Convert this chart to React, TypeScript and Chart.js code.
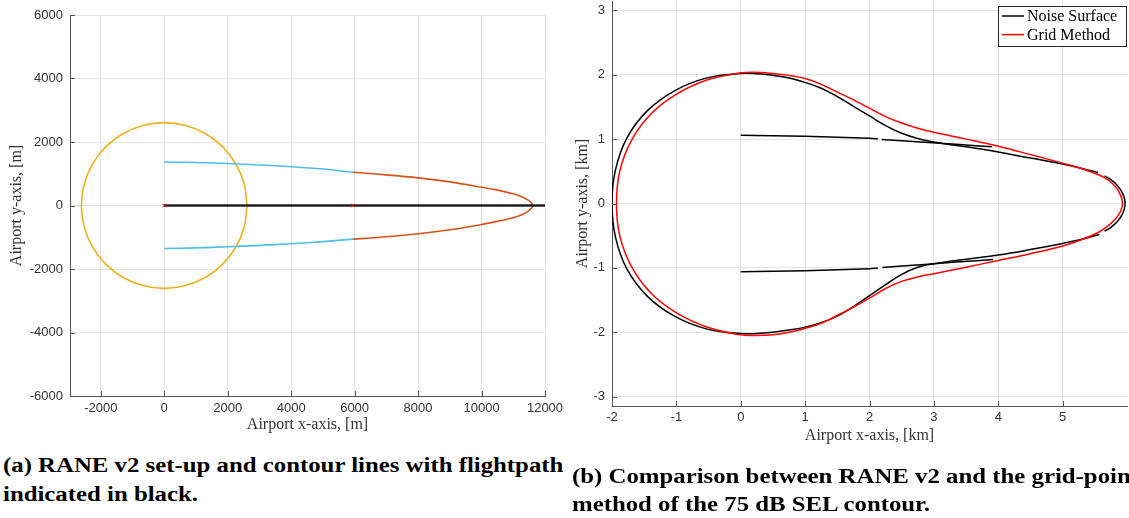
import React, { useEffect, useRef } from 'react';
import { Chart, registerables } from 'chart.js';

Chart.register(...registerables);

// ---------------- Panel (a) data: metres ----------------
const aCircleX = [2610, 2521, 2260, 1846, 1305, 675, 0, -675, -1305, -1846, -2260, -2521, -2610, -2521, -2260, -1846, -1305, -675, 0, 675, 1305, 1846, 2260, 2521, 2610];
const aCircleY = [0, 675, 1305, 1846, 2260, 2521, 2610, 2521, 2260, 1846, 1305, 675, 0, -675, -1305, -1846, -2260, -2521, -2610, -2521, -2260, -1846, -1305, -675, 0];
const aBlueX = [0, 1000, 2000, 3000, 4000, 5000, 5950];
const aBlueUpperY = [1372, 1355, 1322, 1277, 1222, 1148, 1045];
const aBlueLowerY = [-1352, -1335, -1300, -1257, -1205, -1138, -1060];
const aOrangeX = [5950, 7000, 8000, 9000, 10000, 10500, 11000, 11300, 11480, 11580, 11620, 11580, 11480, 11300, 11000, 10500, 10000, 9000, 8000, 7000, 5950];
const aOrangeY = [1045, 964, 870, 744, 577, 485, 367, 262, 160, 75, 0, -80, -168, -275, -388, -500, -598, -765, -891, -985, -1060];
const aPathX = [0, 12000];
const aPathY = [0, 0];
const aMarkX = [0, 5950];
const aMarkY = [0, 0];
const aXTicks = [-2000, 0, 2000, 4000, 6000, 8000, 10000, 12000];
const aYTicks = [-6000, -4000, -2000, 0, 2000, 4000, 6000];

// ---------------- Panel (b) data: kilometres ----------------
// Noise Surface main contour: upper branch (right to left), left arc, lower branch (left to right)
const bNoiseMainX = [5.55, 5.3, 5.0, 4.5, 4.0, 3.5, 3.0, 2.75, 2.5, 2.25, 2.0, 1.75, 1.5, 1.25, 1.0, 0.75, 0.5, 0.25, 0,
  -0.523, -1.015, -1.446, -1.767, -1.946, -2.0, -1.946, -1.767, -1.446, -1.015, -0.523,
  0, 0.25, 0.5, 0.75, 1.0, 1.25, 1.5, 1.75, 2.0, 2.25, 2.5, 2.75, 3.0, 3.5, 4.0, 4.5, 5.0, 5.3, 5.57];
const bNoiseMainY = [0.48, 0.545, 0.615, 0.705, 0.8, 0.88, 0.955, 1.01, 1.09, 1.21, 1.36, 1.51, 1.66, 1.79, 1.88, 1.95, 1.99, 2.015, 2.02,
  1.951, 1.758, 1.446, 1.02, 0.522, 0, -0.522, -1.02, -1.446, -1.758, -1.951,
  -2.02, -2.02, -2.0, -1.965, -1.92, -1.85, -1.75, -1.6, -1.43, -1.26, -1.1, -0.99, -0.935, -0.865, -0.8, -0.715, -0.62, -0.555, -0.48];
const bNoseX = [5.65, 5.75, 5.84, 5.92, 5.96, 5.97, 5.96, 5.92, 5.84, 5.75, 5.65];
const bNoseY = [0.43, 0.37, 0.29, 0.18, 0.08, 0, -0.08, -0.18, -0.29, -0.37, -0.43];
const bInnerUpAX = [0, 1, 2, 2.13];
const bInnerUpAY = [1.06, 1.045, 1.012, 1.005];
const bInnerUpBX = [2.19, 2.8, 3.4, 3.9];
const bInnerUpBY = [0.995, 0.955, 0.915, 0.88];
const bInnerLoAX = [0, 1, 2, 2.13];
const bInnerLoAY = [-1.06, -1.045, -1.012, -1.005];
const bInnerLoBX = [2.2, 2.8, 3.4, 3.92];
const bInnerLoBY = [-0.995, -0.95, -0.905, -0.87];
// Grid Method closed contour
const bGridX = [0, 0.2, 0.5, 0.75, 1.0, 1.25, 1.5, 1.75, 2.0, 2.25, 2.5, 2.75, 3.0, 3.5, 4.0, 4.5, 5.0, 5.3, 5.55, 5.7, 5.82, 5.9, 5.93,
  5.9, 5.82, 5.7, 5.55, 5.3, 5.0, 4.5, 4.0, 3.5, 3.0, 2.75, 2.5, 2.25, 2.0, 1.75, 1.5, 1.25, 1.0, 0.75, 0.5, 0.2, 0,
  -0.515, -0.985, -1.393, -1.697, -1.879, -1.93, -1.879, -1.697, -1.393, -0.985, -0.515, 0];
const bGridY = [2.03, 2.04, 2.02, 1.99, 1.94, 1.85, 1.73, 1.61, 1.48, 1.35, 1.25, 1.17, 1.105, 1.0, 0.89, 0.76, 0.625, 0.54, 0.45, 0.37, 0.26, 0.13, 0,
  -0.12, -0.24, -0.35, -0.45, -0.56, -0.66, -0.78, -0.885, -0.99, -1.09, -1.14, -1.21, -1.32, -1.47, -1.61, -1.74, -1.86, -1.94, -2.0, -2.04, -2.05, -2.04,
  -1.922, -1.706, -1.393, -0.98, -0.503, 0, 0.503, 0.98, 1.393, 1.706, 1.922, 2.03];
const bXTicks = [-2, -1, 0, 1, 2, 3, 4, 5];
const bYTicks = [-3, -2, -1, 0, 1, 2, 3];

const captionA = ['(a) RANE v2 set-up and contour lines with flightpath', 'indicated in black.'];
const captionB = ['(b) Comparison between RANE v2 and the grid-point', 'method of the 75 dB SEL contour.'];

const AXIS = '#555555';
const GRID = '#e4e4e4';
const TEXT = '#333333';

const pts = (xs: number[], ys: number[]) => xs.map((x, i) => ({ x, y: ys[i] }));

const inwardTicks = {
  id: 'inwardTicks',
  afterDatasetsDraw(chart: any) {
    const { ctx, chartArea, scales } = chart;
    ctx.save();
    ctx.strokeStyle = AXIS;
    ctx.lineWidth = 1;
    const len = 5;
    scales.x.ticks.forEach((t: any) => {
      const px = Math.round(scales.x.getPixelForValue(t.value)) + 0.5;
      ctx.beginPath();
      ctx.moveTo(px, chartArea.bottom);
      ctx.lineTo(px, chartArea.bottom - len);
      ctx.stroke();
    });
    scales.y.ticks.forEach((t: any) => {
      const py = Math.round(scales.y.getPixelForValue(t.value)) + 0.5;
      ctx.beginPath();
      ctx.moveTo(chartArea.left, py);
      ctx.lineTo(chartArea.left + len, py);
      ctx.stroke();
    });
    ctx.restore();
  },
};

const boxLegend = {
  id: 'boxLegend',
  afterDraw(chart: any) {
    const cfg = chart.options.plugins.boxLegend;
    if (!cfg || !cfg.enabled) return;
    const items = chart.data.datasets.filter((d: any) => d.label);
    const ctx = chart.ctx;
    const w = 128;
    const h = 40;
    const x0 = chart.chartArea.right - 1 - w;
    const y0 = 6;
    ctx.save();
    ctx.fillStyle = '#ffffff';
    ctx.fillRect(x0, y0, w, h);
    ctx.strokeStyle = '#262626';
    ctx.lineWidth = 1;
    ctx.strokeRect(x0 + 0.5, y0 + 0.5, w, h);
    ctx.font = '16px "Liberation Serif"';
    ctx.textBaseline = 'middle';
    ctx.textAlign = 'left';
    items.forEach((d: any, i: number) => {
      const cy = y0 + 10 + i * 18.6;
      ctx.strokeStyle = d.borderColor;
      ctx.lineWidth = 1.5;
      ctx.beginPath();
      ctx.moveTo(x0 + 4, cy);
      ctx.lineTo(x0 + 26, cy);
      ctx.stroke();
      ctx.fillStyle = '#000000';
      ctx.fillText(d.label, x0 + 29, cy + 1);
    });
    ctx.restore();
  },
};

function axisOpts(p: {
  min: number; max: number; ticks: number[]; horizontal: boolean; size: number;
  tickPad: number; title: string; titlePad: { top: number; bottom: number };
}) {
  return {
    type: 'linear',
    min: p.min,
    max: p.max,
    afterBuildTicks: (s: any) => {
      s.ticks = p.ticks.map((v) => ({ value: v }));
    },
    afterFit: (s: any) => {
      if (p.horizontal) {
        s.height = p.size;
        s.paddingLeft = 0;
        s.paddingRight = 0;
      } else {
        s.width = p.size;
        s.paddingTop = 0;
        s.paddingBottom = 0;
      }
    },
    grid: { color: GRID, lineWidth: 1, drawTicks: false },
    border: { display: true, color: AXIS, width: 1 },
    ticks: {
      padding: p.tickPad,
      color: TEXT,
      font: { family: 'Liberation Sans', size: 13 },
      maxRotation: 0,
      autoSkip: false,
      callback: (v: any) => String(v),
    },
    title: {
      display: true,
      text: p.title,
      color: TEXT,
      font: { family: 'Liberation Serif', size: 16 },
      padding: p.titlePad,
    },
  };
}

function line(data: any, color: string, width: number, tension: number, order: number, label = '') {
  return {
    label,
    data,
    borderColor: color,
    backgroundColor: color,
    borderWidth: width,
    showLine: true,
    pointRadius: 0,
    tension,
    fill: false,
    order,
  };
}

function ChartA() {
  const ref = useRef<HTMLCanvasElement>(null);
  useEffect(() => {
    const chart = new Chart(ref.current as HTMLCanvasElement, {
      type: 'scatter',
      data: {
        datasets: [
          {
            label: '',
            data: pts(aMarkX, aMarkY),
            pointStyle: 'crossRot',
            pointRadius: 2.5,
            borderColor: '#ff0000',
            backgroundColor: '#ff0000',
            borderWidth: 1,
            showLine: false,
            order: 0,
          },
          line(pts(aPathX, aPathY), '#1f1f1f', 2.6, 0, 1),
          line(pts(aOrangeX, aOrangeY), '#D95319', 1.6, 0.35, 2),
          line(pts(aBlueX, aBlueUpperY), '#4DBEEE', 1.6, 0.3, 3),
          line(pts(aBlueX, aBlueLowerY), '#4DBEEE', 1.6, 0.3, 3),
          line(pts(aCircleX, aCircleY), '#EDB120', 1.6, 0.4, 4),
        ] as any,
      },
      options: {
        responsive: true,
        maintainAspectRatio: false,
        animation: false,
        events: [],
        layout: { padding: { left: 0, top: 15, right: 35, bottom: 0 } },
        plugins: { legend: { display: false }, tooltip: { enabled: false } },
        scales: {
          x: axisOpts({ min: -2970, max: 12000, ticks: aXTicks, horizontal: true, size: 44, tickPad: 5, title: 'Airport x-axis, [m]', titlePad: { top: 0, bottom: 6 } }),
          y: axisOpts({ min: -6000, max: 6000, ticks: aYTicks, horizontal: false, size: 70, tickPad: 7, title: 'Airport y-axis, [m]', titlePad: { top: 7, bottom: 0 } }),
        } as any,
      },
      plugins: [inwardTicks],
    });
    return () => chart.destroy();
  }, []);
  return (
    <div style={{ position: 'absolute', left: 0, top: 0, width: 580, height: 440 }}>
      <canvas ref={ref} />
    </div>
  );
}

function ChartB() {
  const ref = useRef<HTMLCanvasElement>(null);
  useEffect(() => {
    const chart = new Chart(ref.current as HTMLCanvasElement, {
      type: 'scatter',
      data: {
        datasets: [
          line(pts(bNoiseMainX, bNoiseMainY), '#000000', 1.5, 0.4, 1, 'Noise Surface'),
          line(pts(bGridX, bGridY), '#ff0000', 1.5, 0.4, 0, 'Grid Method'),
          line(pts(bNoseX, bNoseY), '#000000', 1.5, 0.35, 1),
          line(pts(bInnerUpAX, bInnerUpAY), '#000000', 1.5, 0.3, 1),
          line(pts(bInnerUpBX, bInnerUpBY), '#000000', 1.5, 0.3, 1),
          line(pts(bInnerLoAX, bInnerLoAY), '#000000', 1.5, 0.3, 1),
          line(pts(bInnerLoBX, bInnerLoBY), '#000000', 1.5, 0.3, 1),
        ] as any,
      },
      options: {
        responsive: true,
        maintainAspectRatio: false,
        animation: false,
        events: [],
        layout: { padding: { left: 0, top: 1, right: 2, bottom: 0 } },
        plugins: { legend: { display: false }, tooltip: { enabled: false }, boxLegend: { enabled: true } } as any,
        scales: {
          x: axisOpts({ min: -2, max: 6, ticks: bXTicks, horizontal: true, size: 40, tickPad: 4, title: 'Airport x-axis, [km]', titlePad: { top: 0, bottom: 1 } }),
          y: axisOpts({ min: -3.145, max: 3.145, ticks: bYTicks, horizontal: false, size: 52, tickPad: 7, title: 'Airport y-axis, [km]', titlePad: { top: 13, bottom: 0 } }),
        } as any,
      },
      plugins: [inwardTicks, boxLegend],
    });
    return () => chart.destroy();
  }, []);
  return (
    <div style={{ position: 'absolute', left: 560, top: 0, width: 569, height: 446 }}>
      <canvas ref={ref} />
    </div>
  );
}

const capStyle: React.CSSProperties = {
  position: 'absolute',
  fontFamily: '"Liberation Serif", "Times New Roman", serif',
  fontWeight: 'bold',
  fontSize: 20,
  lineHeight: '29px',
  whiteSpace: 'nowrap',
  color: '#000',
  transform: 'scaleX(1.24)',
  transformOrigin: 'left top',
};

export default function App() {
  return (
    <div style={{ position: 'absolute', left: 0, top: 0, width: 1129, height: 518, overflow: 'hidden', background: '#fff' }}>
      <ChartA />
      <ChartB />
      <div style={{ ...capStyle, left: 3, top: 451 }}>{captionA[0]}</div>
      <div style={{ ...capStyle, left: 3, top: 480 }}>{captionA[1]}</div>
      <div style={{ ...capStyle, left: 572, top: 462 }}>{captionB[0]}</div>
      <div style={{ ...capStyle, left: 572, top: 490 }}>{captionB[1]}</div>
    </div>
  );
}
